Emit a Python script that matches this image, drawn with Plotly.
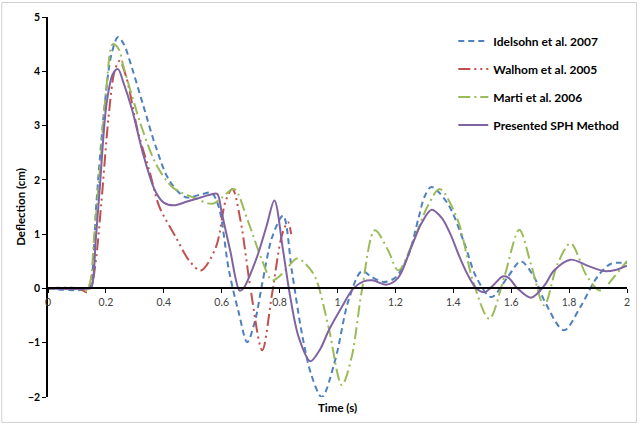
import plotly.graph_objects as go

# ---- data ----
idelsohn_t = [0, 0.14, 0.15, 0.167, 0.196, 0.219, 0.242, 0.262, 0.282, 0.328, 0.373, 0.419, 0.476,
              0.534, 0.565, 0.59, 0.625, 0.66, 0.688, 0.715, 0.74, 0.774, 0.812, 0.843, 0.877, 0.91,
              0.946, 0.992, 1.038, 1.084, 1.118, 1.16, 1.2, 1.244, 1.28, 1.3, 1.324, 1.381, 1.439,
              1.479, 1.531, 1.588, 1.633, 1.679, 1.714, 1.782, 1.839, 1.897, 1.943, 2.0]
idelsohn_y = [0, 0, 0.15, 1.56, 3.39, 4.31, 4.63, 4.5, 4.2, 3.39, 2.6, 1.99, 1.68,
              1.74, 1.76, 1.5, 0.33, -0.47, -0.99, -0.6, 0.09, 0.94, 1.34, 0.3, -0.83, -1.6,
              -2.0, -1.32, -0.22, 0.32, 0.21, 0.12, 0.2, 0.6, 1.3, 1.68, 1.87, 1.56, 0.82,
              0.21, -0.16, 0.21, 0.5, 0.21, -0.22, -0.77, -0.34, 0.21, 0.45, 0.47]

walhom_t = [0, 0.11, 0.133, 0.15, 0.165, 0.184, 0.21, 0.23, 0.247, 0.27, 0.31, 0.35, 0.385,
            0.442, 0.488, 0.528, 0.58, 0.614, 0.637, 0.665, 0.7, 0.74, 0.774, 0.809, 0.829, 0.84]
walhom_y = [0, 0, -0.07, 0.05, 0.5, 1.56, 3.2, 4.0, 4.19, 3.9, 2.9, 2.17, 1.5,
            0.94, 0.51, 0.33, 0.76, 1.62, 1.83, 1.25, -0.02, -1.14, -0.1, 1.0, 1.22, 1.0]

marti_t = [0, 0.11, 0.13, 0.145, 0.16, 0.179, 0.2, 0.224, 0.245, 0.26, 0.299, 0.316, 0.373,
           0.431, 0.5, 0.568, 0.602, 0.643, 0.69, 0.74, 0.774, 0.809, 0.86, 0.89, 0.923, 0.969,
           1.015, 1.049, 1.084, 1.129, 1.175, 1.21, 1.267, 1.31, 1.353, 1.416, 1.467, 1.524,
           1.576, 1.628, 1.668, 1.714, 1.76, 1.805, 1.863, 1.908, 1.955, 2.0]
marti_y = [0, 0, -0.05, 0.1, 1.0, 2.17, 3.6, 4.5, 4.4, 4.1, 3.39, 3.09, 2.29,
           1.86, 1.68, 1.56, 1.68, 1.83, 1.25, 0.51, 0.15, 0.27, 0.55, 0.45, 0.21, -0.71,
           -1.78, -1.26, -0.04, 1.07, 0.7, 0.33, 0.94, 1.5, 1.83, 1.25, 0.15, -0.56,
           0.21, 1.08, 0.45, -0.31, 0.45, 0.83, 0.21, -0.04, 0.21, 0.51]

sph_t = [0, 0.14, 0.15, 0.165, 0.179, 0.202, 0.224, 0.242, 0.26, 0.29, 0.33, 0.37, 0.4, 0.435,
         0.48, 0.53, 0.57, 0.585, 0.6, 0.63, 0.662, 0.675, 0.72, 0.755, 0.782, 0.812, 0.835,
         0.866, 0.906, 0.94, 0.97, 1.015, 1.055, 1.09, 1.12, 1.17, 1.21, 1.255, 1.29, 1.325,
         1.36, 1.39, 1.42, 1.45, 1.48, 1.508, 1.54, 1.57, 1.59, 1.622, 1.668, 1.714, 1.748,
         1.805, 1.863, 1.92, 1.96, 2.0]
sph_y = [0, 0, 0.02, 0.9, 1.86, 3.39, 3.95, 4.04, 3.8, 3.3, 2.45, 1.8, 1.58, 1.53,
         1.6, 1.68, 1.74, 1.74, 1.4, 0.68, -0.04, 0.0, 0.55, 1.15, 1.62, 0.7, -0.1,
         -0.9, -1.34, -1.12, -0.77, -0.34, 0.0, 0.13, 0.15, 0.07, 0.2, 0.76, 1.2, 1.45,
         1.3, 1.0, 0.6, 0.25, 0.0, -0.07, 0.07, 0.22, 0.2, 0.0, -0.17, 0.05, 0.33,
         0.53, 0.42, 0.32, 0.34, 0.42]

series = [
    ("Idelsohn et al. 2007", idelsohn_t, idelsohn_y, "#4F81BD", "6px,4px"),
    ("Walhom et al. 2005", walhom_t, walhom_y, "#C0504D", "12px,4px,2px,4px,2px,4px"),
    ("Marti et al. 2006", marti_t, marti_y, "#9BBB59", "12px,4px,2px,4px"),
    ("Presented SPH Method", sph_t, sph_y, "#8064A2", "solid"),
]

x_range = [0, 2]
y_range = [-2, 5]

W, H = 641, 424
ML, MR, MT, MB = 48, 11, 16, 27

FONT = "Lato"

fig = go.Figure()
for i, (name, t, y, color, dash) in enumerate(series):
    fig.add_trace(go.Scatter(
        x=t, y=y, mode="lines", name=name,
        line=dict(color=color, width=2, dash=dash, shape="spline", smoothing=0.9),
        legendgroup=f"g{i}",
    ))

pw = W - ML - MR
ph = H - MT - MB

fig.update_layout(
    width=W, height=H,
    margin=dict(l=ML, r=MR, t=MT, b=MB, pad=0),
    paper_bgcolor="white", plot_bgcolor="white",
    font=dict(family=FONT, color="#000000"),
    showlegend=True,
    legend=dict(
        x=0.700, y=0.975, xanchor="left", yanchor="top",
        bgcolor="rgba(0,0,0,0)",
        font=dict(family=FONT, size=12, weight="bold", color="#000000"),
        traceorder="grouped", tracegroupgap=9,
        itemwidth=30,
    ),
    xaxis=dict(
        range=x_range, dtick=0.2, tick0=0,
        anchor="free", position=(0 - y_range[0]) / (y_range[1] - y_range[0]),
        showline=True, linecolor="#000000", linewidth=1.5,
        ticks="outside", ticklen=4, tickcolor="#000000", tickwidth=1,
        showgrid=False, zeroline=False,
        tickfont=dict(family=FONT, size=10.5, color="#404040"),
        tickformat="~g",
    ),
    yaxis=dict(
        range=y_range, dtick=1, tick0=0,
        showline=True, linecolor="#000000", linewidth=1.5,
        ticks="outside", ticklen=4, tickcolor="#000000", tickwidth=1,
        showgrid=False, zeroline=False,
        tickfont=dict(family=FONT, size=10.5, weight="bold", color="#000000"),
        title=dict(text="Deflection (cm)", standoff=0,
                   font=dict(family=FONT, size=11.5, weight="bold", color="#000000")),
    ),
    annotations=[dict(
        text="Time (s)", x=0.5, y=0, xref="paper", yref="paper",
        xanchor="center", yanchor="top", yshift=-2, showarrow=False,
        font=dict(family=FONT, size=11.5, weight="bold", color="#000000"),
    )],
    shapes=[dict(
        type="rect", xref="paper", yref="paper", layer="below",
        x0=-(ML - 1.5) / pw, x1=1 + (MR - 1.5) / pw,
        y0=-(MB - 1.5) / ph, y1=1 + (MT - 1.5) / ph,
        line=dict(color="#D0D0D0", width=1),
    )],
)

fig.write_html("out.html")
